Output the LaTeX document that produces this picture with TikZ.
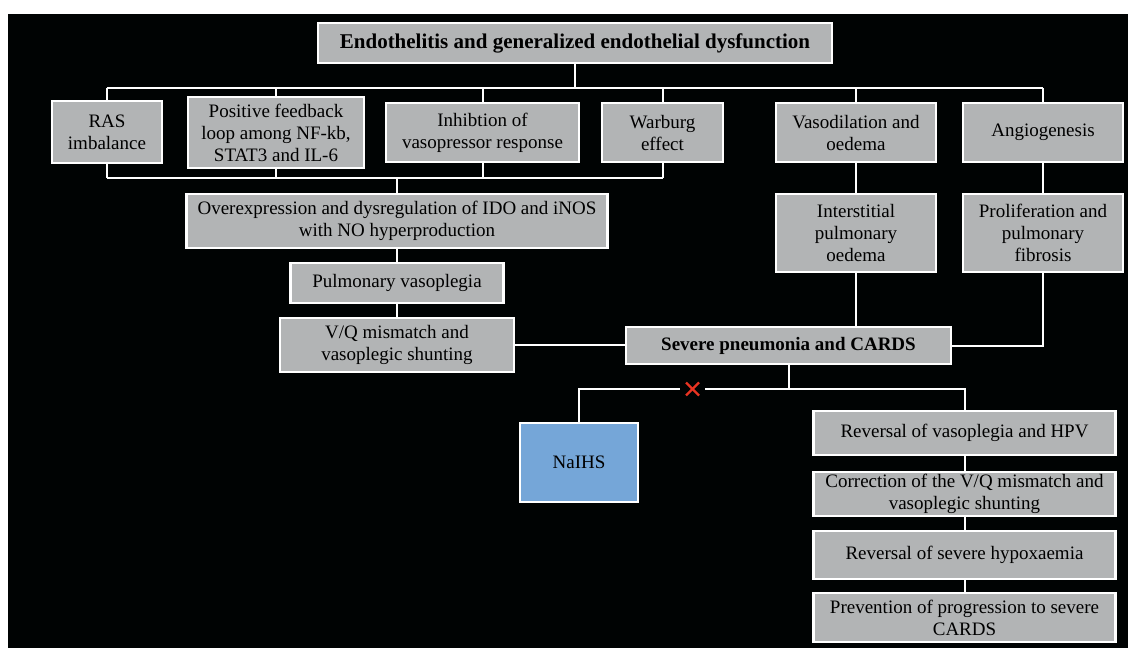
\documentclass[tikz,border=0pt]{standalone}
\usepackage{fontspec}
\setmainfont{Liberation Serif}
\usetikzlibrary{calc}
\definecolor{boxgray}{RGB}{178,180,181}
\definecolor{naiblue}{RGB}{117,166,216}
\definecolor{xred}{RGB}{232,52,34}
\begin{document}
\begin{tikzpicture}[x=1pt,y=-1pt,
  box/.style={draw=white, line width=2.4pt, fill=boxgray, text=black, align=center,
    inner sep=0pt, font=\fontsize{19}{22}\selectfont},
  titlebox/.style={box, font=\fontsize{21}{24}\selectfont\bfseries},
  bluebox/.style={box, fill=naiblue},
  conn/.style={draw=white, line width=2pt},
  xmark/.style={draw=xred, line width=2.2pt}]
\useasboundingbox (0,0) rectangle (1128,648);
\fill[white] (0,0) rectangle (1128,648);
\fill[black!98!teal] (8,14) rectangle (1128,648);

% nodes
\node[titlebox, minimum width=514pt, minimum height=40pt] (top) at (575,43) {Endothelitis and generalized endothelial dysfunction};
\node[box, minimum width=110pt, minimum height=62pt] (ras) at (107,132) {RAS\\imbalance};
\node[box, minimum width=176pt, minimum height=71pt] (pf) at (276,132.5) {Positive feedback\\loop among NF-kb,\\STAT3 and IL-6};
\node[box, minimum width=193pt, minimum height=59pt] (inh) at (482.5,132.5) {Inhibtion of\\vasopressor response};
\node[box, minimum width=121pt, minimum height=59pt] (war) at (662.5,132.5) {Warburg\\effect};
\node[box, minimum width=160pt, minimum height=59pt] (vaso) at (856,132.5) {Vasodilation and\\oedema};
\node[box, minimum width=160pt, minimum height=59pt] (ang) at (1043,132.5) {Angiogenesis};
\node[box, minimum width=421pt, minimum height=54pt] (over) at (397,221) {Overexpression and dysregulation of IDO and iNOS\\with NO hyperproduction};
\node[box, minimum width=213pt, minimum height=40pt] (pv) at (397,283) {Pulmonary vasoplegia};
\node[box, minimum width=234pt, minimum height=54pt] (vq) at (397,345) {V/Q mismatch and\\vasoplegic shunting};
\node[box, minimum width=325pt, minimum height=37pt] (sev) at (788.5,345.5) {\textbf{Severe pneumonia and CARDS}};
\node[box, minimum width=160pt, minimum height=78pt] (int) at (856,233) {Interstitial\\pulmonary\\oedema};
\node[box, minimum width=160pt, minimum height=78pt] (pro) at (1043,233) {Proliferation and\\pulmonary\\fibrosis};
\node[bluebox, minimum width=118pt, minimum height=79pt] (naihs) at (579,462.5) {NaIHS};
\node[box, minimum width=302pt, minimum height=44pt] (rev) at (964.5,433) {Reversal of vasoplegia and HPV};
\node[box, minimum width=302pt, minimum height=44pt] (cor) at (964.5,494) {Correction of the V/Q mismatch and\\vasoplegic shunting};
\node[box, minimum width=302pt, minimum height=48pt] (hyp) at (964.5,555) {Reversal of severe hypoxaemia};
\node[box, minimum width=302pt, minimum height=49pt] (pre) at (964.5,617.5) {Prevention of progression to severe\\CARDS};

% helper coordinates
\coordinate (busL) at (107,88);
\coordinate (busR) at (1043,88);
\coordinate (lbL) at (107,178);
\coordinate (lbR) at (662.5,178);
\coordinate (gapL) at (680,389);
\coordinate (gapR) at (705,389);
\coordinate (xm) at (692.5,389);

% connectors
\draw[conn] (busL) -- (busR);
\draw[conn] (top.south) -- (top.south |- busL);
\foreach \n in {ras,pf,inh,war,vaso,ang}
  \draw[conn] (\n.north) -- (\n.north |- busL);
\draw[conn] (lbL) -- (lbR);
\foreach \n in {ras,pf,inh,war}
  \draw[conn] (\n.south) -- (\n.south |- lbL);
\draw[conn] (over.north) -- (over.north |- lbL);
\draw[conn] (over.south) -- (pv.north);
\draw[conn] (pv.south) -- (vq.north);
\draw[conn] (vq.east) -- (vq.east -| sev.west);
\draw[conn] (vaso.south) -- (int.north);
\draw[conn] (int.south) -- (int.south |- sev.north);
\draw[conn] (ang.south) -- (pro.north);
\draw[conn] (pro.south) |- (sev.east);
\draw[conn] (sev.south) -- (sev.south |- gapR);
\draw[conn] (naihs.north) |- (gapL);
\draw[conn] (gapR) -| (rev.north);
\draw[conn] (rev.south) -- (cor.north);
\draw[conn] (cor.south) -- (hyp.north);
\draw[conn] (hyp.south) -- (pre.north);

% red cross
\draw[xmark] ($(xm)+(-6.5,-6.5)$) -- ($(xm)+(6.5,6.5)$);
\draw[xmark] ($(xm)+(-6.5,6.5)$) -- ($(xm)+(6.5,-6.5)$);
\end{tikzpicture}
\end{document}
